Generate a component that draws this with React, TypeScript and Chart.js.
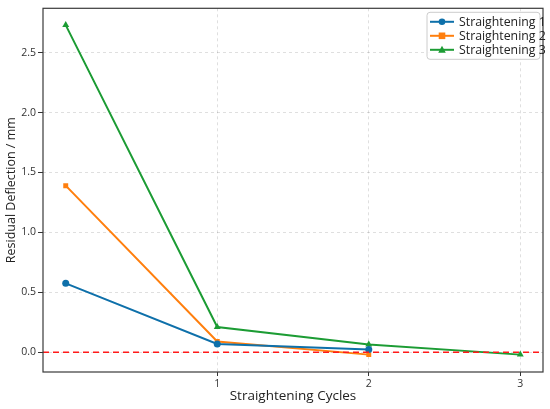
import { useEffect, useRef } from 'react';
import { Chart, registerables } from 'chart.js';

Chart.register(...registerables);

const cycles = [0, 1, 2, 3];
const straightening1 = [0.575, 0.069, 0.022];
const straightening2 = [1.39, 0.09, -0.02];
const straightening3 = [2.73, 0.21, 0.064, -0.02];
const seriesNames = ['Straightening 1', 'Straightening 2', 'Straightening 3'];
const seriesColors = ['#0e70aa', '#ff7f0e', '#1c9c34'];
const seriesMarkers = ['circle', 'rect', 'triangle'] as const;
const xTicks = [1, 2, 3];
const yTicks = [0, 0.5, 1.0, 1.5, 2.0, 2.5];
const referenceLine = 0;

const FONT = "'Open Sans', sans-serif";

const toPoints = (vals: number[]) => vals.map((v, i) => ({ x: cycles[i], y: v }));

// frame, zero line and boxed legend in matplotlib style
const extrasPlugin = {
  id: 'extras',
  afterDatasetsDraw(chart: any) {
    const { ctx, chartArea } = chart;
    const y0 = chart.scales.y.getPixelForValue(referenceLine);
    ctx.save();
    ctx.strokeStyle = '#ff1a1a';
    ctx.lineWidth = 1.6;
    ctx.setLineDash([6, 4]);
    ctx.beginPath();
    ctx.moveTo(chartArea.left, y0);
    ctx.lineTo(chartArea.right, y0);
    ctx.stroke();
    ctx.restore();
  },
  afterDraw(chart: any) {
    const { ctx, chartArea } = chart;
    ctx.save();
    ctx.strokeStyle = '#3a3a3a';
    ctx.lineWidth = 1.2;
    ctx.strokeRect(chartArea.left, chartArea.top, chartArea.right - chartArea.left, chartArea.bottom - chartArea.top);

    const bw = 113;
    const bh = 47;
    const bx = chartArea.right - 3 - bw;
    const by = chartArea.top + 4;
    ctx.fillStyle = 'rgba(255,255,255,0.85)';
    ctx.strokeStyle = '#cccccc';
    ctx.lineWidth = 1;
    ctx.beginPath();
    ctx.roundRect(bx, by, bw, bh, 3);
    ctx.fill();
    ctx.stroke();

    ctx.font = `12.3px ${FONT}`;
    ctx.textBaseline = 'middle';
    seriesNames.forEach((name, i) => {
      const ly = by + 9.5 + i * 14;
      ctx.strokeStyle = seriesColors[i];
      ctx.fillStyle = seriesColors[i];
      ctx.lineWidth = 2;
      ctx.beginPath();
      ctx.moveTo(bx + 3, ly);
      ctx.lineTo(bx + 27, ly);
      ctx.stroke();
      const mx = bx + 15;
      ctx.beginPath();
      if (seriesMarkers[i] === 'circle') {
        ctx.arc(mx, ly, 3.3, 0, Math.PI * 2);
      } else if (seriesMarkers[i] === 'rect') {
        ctx.rect(mx - 3.3, ly - 3.3, 6.6, 6.6);
      } else {
        ctx.moveTo(mx, ly - 4);
        ctx.lineTo(mx + 3.8, ly + 3);
        ctx.lineTo(mx - 3.8, ly + 3);
        ctx.closePath();
      }
      ctx.fill();
      ctx.fillStyle = '#222222';
      ctx.fillText(name, bx + 32, ly + 0.5);
    });
    ctx.restore();
  }
};

export default function App() {
  const canvasRef = useRef<HTMLCanvasElement>(null);

  useEffect(() => {
    document.body.style.margin = '0';
    const canvas = canvasRef.current;
    if (!canvas) return;

    const data = [straightening1, straightening2, straightening3];
    const chart = new Chart(canvas, {
      type: 'line',
      data: {
        datasets: data.map((vals, i) => ({
          label: seriesNames[i],
          data: toPoints(vals),
          borderColor: seriesColors[i],
          backgroundColor: seriesColors[i],
          borderWidth: 2,
          pointStyle: seriesMarkers[i],
          pointRadius: seriesMarkers[i] === 'triangle' ? 4 : 3.5,
          pointBorderWidth: 0,
          tension: 0
        }))
      },
      options: {
        responsive: false,
        animation: false,
        layout: { padding: { top: 4, right: 7, left: 0, bottom: 0 } },
        plugins: {
          legend: { display: false },
          tooltip: { enabled: false }
        },
        scales: {
          x: {
            type: 'linear',
            min: -0.15,
            max: 3.15,
            afterBuildTicks: (axis: any) => {
              axis.ticks = xTicks.map((v) => ({ value: v }));
            },
            afterFit: (axis: any) => {
              axis.height = 37;
            },
            ticks: {
              color: '#333333',
              font: { family: FONT, size: 10.5 },
              padding: 2,
              maxRotation: 0,
              callback: (v: any) => String(v)
            },
            grid: {
              color: 'rgba(0,0,0,0.16)',
              lineWidth: 0.8,
              tickLength: 4,
              tickColor: '#333333',
              tickWidth: 1
            },
            border: { display: false, dash: [3, 3] },
            title: {
              display: true,
              text: 'Straightening Cycles',
              color: '#222222',
              font: { family: FONT, size: 13.5 },
              padding: { top: 0, bottom: 5 }
            }
          },
          y: {
            type: 'linear',
            min: -0.165,
            max: 2.87,
            afterBuildTicks: (axis: any) => {
              axis.ticks = yTicks.map((v) => ({ value: v }));
            },
            afterFit: (axis: any) => {
              axis.width = 43;
            },
            ticks: {
              color: '#333333',
              font: { family: FONT, size: 10.5 },
              padding: 2,
              callback: (v: any) => Number(v).toFixed(1)
            },
            grid: {
              color: 'rgba(0,0,0,0.16)',
              lineWidth: 0.8,
              tickLength: 5,
              tickColor: '#333333',
              tickWidth: 1
            },
            border: { display: false, dash: [3, 3] },
            title: {
              display: true,
              text: 'Residual Deflection / mm',
              color: '#222222',
              font: { family: FONT, size: 12.5 },
              padding: { top: 4, bottom: 0 }
            }
          }
        }
      },
      plugins: [extrasPlugin]
    });

    return () => {
      chart.destroy();
    };
  }, []);

  return (
    <div style={{ width: 550, height: 409 }}>
      <canvas ref={canvasRef} width={550} height={409}></canvas>
    </div>
  );
}
